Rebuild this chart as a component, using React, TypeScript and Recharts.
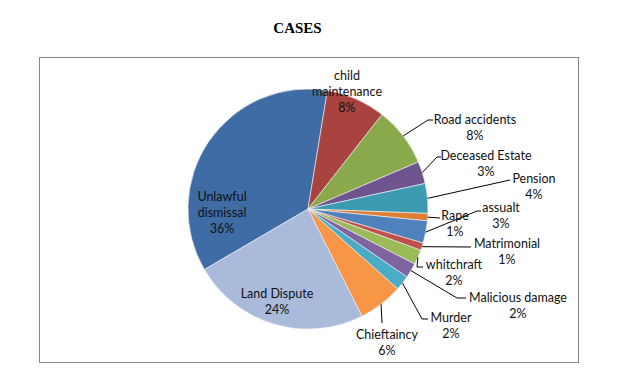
import React from "react";
import { PieChart, Pie, Cell } from "recharts";

const CATEGORIES = [
  "Unlawful dismissal",
  "child maintenance",
  "Road accidents",
  "Deceased Estate",
  "Pension",
  "Rape",
  "assualt",
  "Matrimonial",
  "whitchraft",
  "Malicious damage",
  "Murder",
  "Chieftaincy",
  "Land Dispute",
];
const PERCENTS = [36, 8, 8, 3, 4, 1, 3, 1, 2, 2, 2, 6, 24];
// how each category name wraps in its label
const LABEL_LINES = [
  ["Unlawful", "dismissal"],
  ["child", "maintenance"],
  ["Road accidents"],
  ["Deceased Estate"],
  ["Pension"],
  ["Rape"],
  ["assualt"],
  ["Matrimonial"],
  ["whitchraft"],
  ["Malicious damage"],
  ["Murder"],
  ["Chieftaincy"],
  ["Land Dispute"],
];

const COLORS = [
  "#3f6ca4", "#a8433f", "#8aa84c", "#6e5590", "#3c9ab1", "#de7f35",
  "#4f81bd", "#c0504d", "#9bbb59", "#8064a2", "#4bacc6", "#f79646", "#a9badb",
];

// label placement relative to pie centre: text block centre + leader line bends
const LABEL_LAYOUT: { tx: number; ty: number; leader: number[][] | null }[] = [
  { tx: -86, ty: -13, leader: null },
  { tx: 39, ty: -134, leader: null },
  { tx: 167, ty: -90, leader: [[120, -89], [125, -89]] },
  { tx: 178, ty: -54, leader: [[129, -52], [133, -52]] },
  { tx: 226, ty: -31, leader: [[202, -29]] },
  { tx: 147, ty: 6, leader: [[132, 9]] },
  { tx: 193, ty: -2, leader: [[169, 2], [173, 2]] },
  { tx: 199, ty: 34, leader: [[163, 38]] },
  { tx: 146, ty: 55, leader: [[109, 58], [115, 58]] },
  { tx: 210, ty: 88, leader: [[149, 89], [158, 89]] },
  { tx: 143, ty: 108, leader: [[114, 110], [120, 110]] },
  { tx: 79, ty: 125, leader: [[74, 114]] },
  { tx: -31, ty: 84, leader: null },
];

const data = CATEGORIES.map((name, i) => ({ name, value: PERCENTS[i] }));
const RAD = Math.PI / 180;
const FONT = "Lato, 'Noto Sans', sans-serif";

const renderLabel = (props: any) => {
  const { cx, cy, midAngle, outerRadius, index } = props;
  const layout = LABEL_LAYOUT[index];
  const lines = [...LABEL_LINES[index], `${PERCENTS[index]}%`];
  const sx = cx + outerRadius * Math.cos(-midAngle * RAD);
  const sy = cy + outerRadius * Math.sin(-midAngle * RAD);
  const pts = layout.leader
    ? [[sx, sy], ...layout.leader.map(([x, y]) => [cx + x, cy + y])]
    : null;
  return (
    <g key={`lbl-${index}`}>
      {pts && (
        <polyline
          points={pts.map((p) => p.join(",")).join(" ")}
          fill="none"
          stroke="#000"
          strokeWidth={1}
        />
      )}
      <text
        x={cx + layout.tx}
        y={cy + layout.ty}
        textAnchor="middle"
        fontFamily={FONT}
        fontSize={12.5}
        fill="#111"
      >
        {lines.map((l, k) => (
          <tspan key={k} x={cx + layout.tx} dy={k === 0 ? 4.5 : 16}>
            {l}
          </tspan>
        ))}
      </text>
    </g>
  );
};

export default function App() {
  return (
    <div style={{ position: "absolute", left: 0, top: 0, width: 631, height: 385, background: "#fff" }}>
      <div
        style={{
          position: "absolute",
          left: 39,
          top: 57,
          width: 538,
          height: 304,
          border: "1px solid #878787",
        }}
      />
      <div
        style={{
          position: "absolute",
          left: 0,
          top: 20,
          width: 595,
          textAlign: "center",
          fontFamily: "'Liberation Serif', 'Times New Roman', serif",
          fontWeight: "bold",
          fontSize: 15,
        }}
      >
        CASES
      </div>
      <div style={{ position: "absolute", left: 0, top: 0 }}>
        <PieChart width={631} height={385} margin={{ top: 0, right: 0, bottom: 0, left: 0 }}>
          <Pie
            data={data}
            dataKey="value"
            nameKey="name"
            cx={308}
            cy={209}
            outerRadius={120}
            startAngle={210.3}
            endAngle={-149.7}
            stroke="#f4f4f4"
            strokeWidth={0.6}
            label={renderLabel}
            labelLine={false}
            isAnimationActive={false}
          >
            {data.map((d, i) => (
              <Cell key={d.name} fill={COLORS[i]} />
            ))}
          </Pie>
        </PieChart>
      </div>
    </div>
  );
}
